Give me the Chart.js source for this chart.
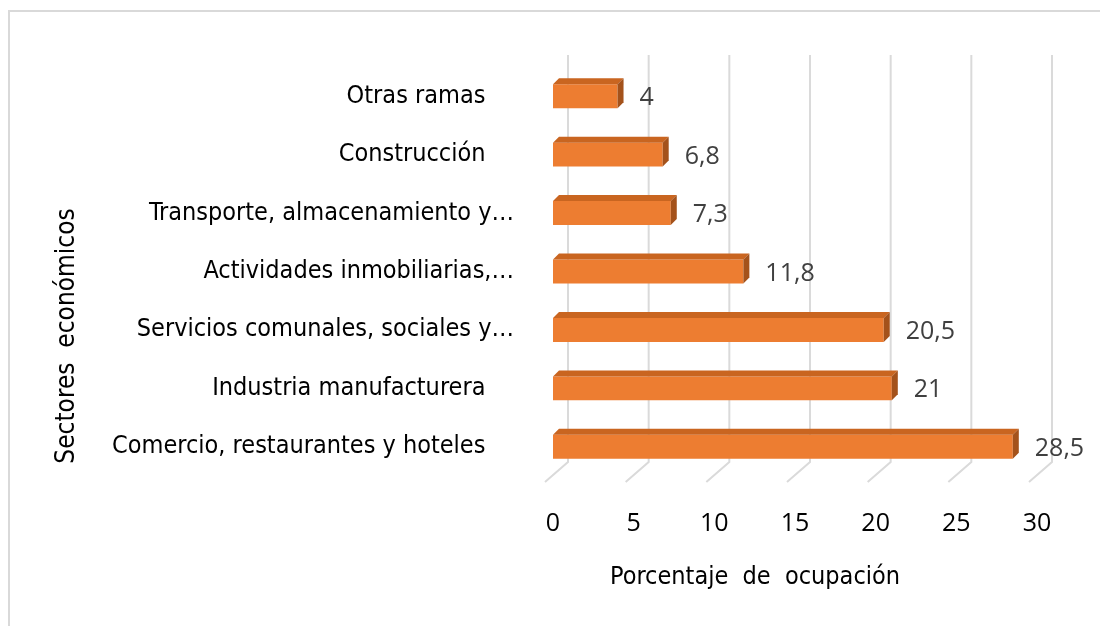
<!DOCTYPE html>
<html>
<head>
<meta charset="utf-8">
<script src="https://cdn.jsdelivr.net/npm/chart.js@4.4.1/dist/chart.umd.min.js"></script>
<style>
  html, body { margin: 0; padding: 0; background: #fff; }
  #wrap { width: 1100px; height: 626px; position: relative; }
</style>
</head>
<body>
<div id="wrap"><canvas id="grafico" width="1100" height="626"></canvas></div>
<script>
// --- DATOS ---
const sectores = [
  'Otras ramas',
  'Construcción',
  'Transporte, almacenamiento y…',
  'Actividades inmobiliarias,…',
  'Servicios comunales, sociales y…',
  'Industria manufacturera',
  'Comercio, restaurantes y hoteles'
];
const porcentajes = [4, 6.8, 7.3, 11.8, 20.5, 21, 28.5];
const marcasX = [0, 5, 10, 15, 20, 25, 30];
const tituloX = 'Porcentaje  de  ocupación';
const tituloY = 'Sectores  económicos';

// --- ESTILO ---
const naranja = '#ED7D31';
const naranjaTapa = '#C96520';
const naranjaLado = '#A4521B';
const fuenteEtiq = "'Liberation Sans Narrow', 'DejaVu Sans Condensed', 'Liberation Sans', sans-serif";
const fuenteNum = "'Open Sans', 'Noto Sans', sans-serif";
const prof = 6;        // profundidad 3D de las barras
const muroDx = 15;     // desplazamiento del muro de fondo
const sueloDx = -23, sueloDy = 20;

const fmt = v => String(v).replace('.', ',');

// marco gris y títulos de los ejes
const marcoPlugin = {
  id: 'marco',
  beforeDraw(chart) {
    const ctx = chart.ctx;
    ctx.save();
    ctx.strokeStyle = '#d9d9d9';
    ctx.lineWidth = 2;
    ctx.beginPath();
    ctx.moveTo(9, 626);
    ctx.lineTo(9, 11);
    ctx.lineTo(1100, 11);
    ctx.stroke();
    ctx.restore();
  },
  afterDraw(chart) {
    const ctx = chart.ctx;
    const a = chart.chartArea;
    ctx.save();
    ctx.fillStyle = '#000';
    ctx.textAlign = 'center';
    ctx.textBaseline = 'middle';
    ctx.font = '25px ' + fuenteEtiq;
    ctx.fillText(tituloX, a.left + 202, a.bottom + 101);
    ctx.font = '26px ' + fuenteEtiq;
    ctx.translate(67, a.bottom - 140);
    ctx.rotate(-Math.PI / 2);
    ctx.fillText(tituloY, 0, 0);
    ctx.restore();
  }
};

// rejilla en perspectiva (muro + suelo)
const rejillaPlugin = {
  id: 'rejilla3d',
  beforeDatasetsDraw(chart) {
    const ctx = chart.ctx;
    const sx = chart.scales.x;
    const a = chart.chartArea;
    ctx.save();
    ctx.strokeStyle = '#dadada';
    ctx.lineWidth = 2;
    marcasX.forEach(v => {
      const x = sx.getPixelForValue(v) + muroDx;
      ctx.beginPath();
      ctx.moveTo(x, a.top - 12);
      ctx.lineTo(x, a.bottom - 14);
      ctx.lineTo(x + sueloDx, a.bottom - 14 + sueloDy);
      ctx.stroke();
    });
    ctx.restore();
  }
};

// caras superior y lateral de las barras + etiquetas de valor
const barras3dPlugin = {
  id: 'barras3d',
  afterDatasetsDraw(chart) {
    const ctx = chart.ctx;
    const meta = chart.getDatasetMeta(0);
    ctx.save();
    meta.data.forEach((bar, i) => {
      const p = bar.getProps(['x', 'y', 'base', 'height'], true);
      const top = p.y - p.height / 2;
      const bot = p.y + p.height / 2;
      ctx.fillStyle = naranjaTapa;
      ctx.beginPath();
      ctx.moveTo(p.base, top);
      ctx.lineTo(p.base + prof, top - prof);
      ctx.lineTo(p.x + prof, top - prof);
      ctx.lineTo(p.x, top);
      ctx.closePath();
      ctx.fill();
      ctx.fillStyle = naranjaLado;
      ctx.beginPath();
      ctx.moveTo(p.x, top);
      ctx.lineTo(p.x + prof, top - prof);
      ctx.lineTo(p.x + prof, bot - prof);
      ctx.lineTo(p.x, bot);
      ctx.closePath();
      ctx.fill();
      ctx.fillStyle = '#404040';
      ctx.font = '25px ' + fuenteNum;
      ctx.textAlign = 'left';
      ctx.textBaseline = 'middle';
      ctx.fillText(fmt(porcentajes[i]), p.x + prof + 16, p.y + 2);
    });
    ctx.restore();
  }
};

new Chart(document.getElementById('grafico'), {
  type: 'bar',
  data: {
    labels: sectores,
    datasets: [{
      data: porcentajes,
      backgroundColor: naranja,
      borderWidth: 0,
      categoryPercentage: 1,
      barPercentage: 0.41
    }]
  },
  options: {
    indexAxis: 'y',
    responsive: false,
    animation: false,
    devicePixelRatio: 1,
    layout: { padding: { top: 67, right: 63, left: 0, bottom: 0 } },
    plugins: { legend: { display: false }, tooltip: { enabled: false } },
    scales: {
      x: {
        min: 0, max: 30,
        afterBuildTicks: s => { s.ticks = marcasX.map(v => ({ value: v })); },
        grid: { display: false },
        border: { display: false },
        ticks: { color: '#000', font: { family: fuenteNum, size: 25 }, padding: 25, maxRotation: 0 },
        afterFit: s => { s.height = 150; }
      },
      y: {
        grid: { display: false },
        border: { display: false },
        ticks: {
          color: '#000',
          font: { family: fuenteEtiq, size: 25 },
          padding: 31,
          callback: function (v, i) {
            const t = this.getLabelForValue(v);
            return t.endsWith('…') ? t : t + '    ';
          }
        },
        afterFit: s => { s.width = 553; }
      }
    }
  },
  plugins: [marcoPlugin, rejillaPlugin, barras3dPlugin]
});
</script>
</body>
</html>
